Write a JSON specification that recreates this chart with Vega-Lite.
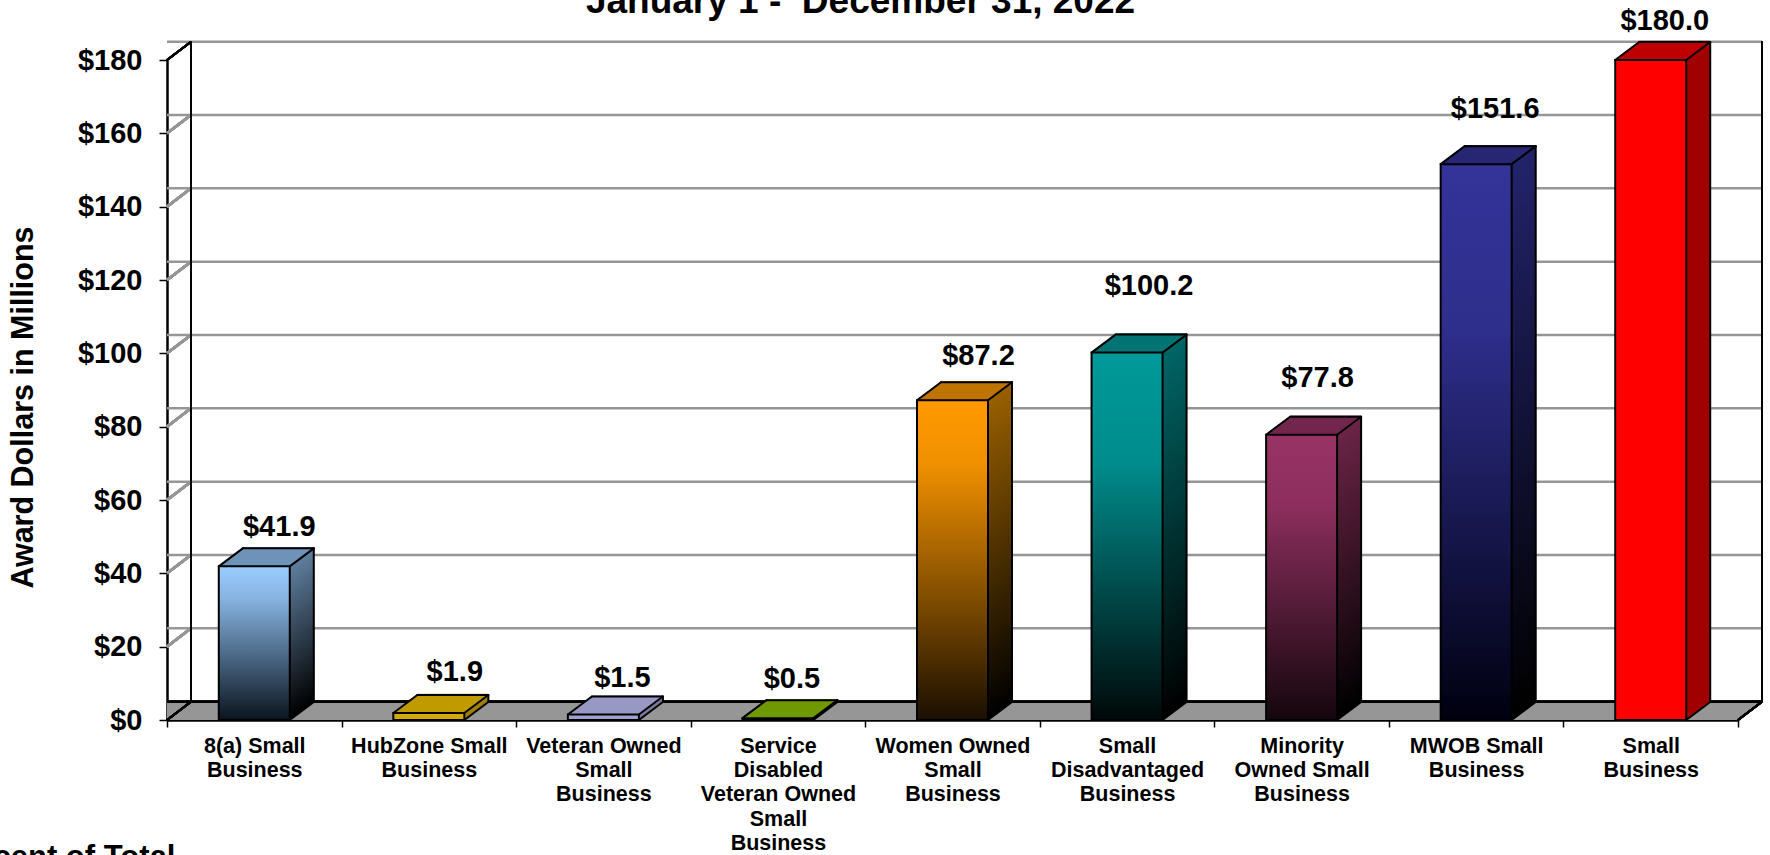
{
"$schema":"https://vega.github.io/schema/vega-lite/v6.json",
"width":1571,"height":660,"autosize":"none",
"padding":{"left":167,"top":60,"right":32,"bottom":135},
"background":"white",
"config":{"view":{"stroke":null},"font":"Liberation Sans"},
"title":{"text":"January 1 - \u00a0December 31, 2022","font":"Liberation Sans","fontWeight":"bold","fontSize":37,"color":"#000","anchor":"middle","dx":-92,"offset":0,"dy":43,"baseline":"alphabetic"},
"datasets":{
"bars":[
{"category":"8(a) Small Business","value":41.9},
{"category":"HubZone Small Business","value":1.9},
{"category":"Veteran Owned Small Business","value":1.5},
{"category":"Service Disabled Veteran Owned Small Business","value":0.5},
{"category":"Women Owned Small Business","value":87.2},
{"category":"Small Disadvantaged Business","value":100.2},
{"category":"Minority Owned Small Business","value":77.8},
{"category":"MWOB Small Business","value":151.6},
{"category":"Small Business","value":180.0}],
"ticks":[{"tick":0},{"tick":20},{"tick":40},{"tick":60},{"tick":80},{"tick":100},{"tick":120},{"tick":140},{"tick":160},{"tick":180}]
},
"layer":[
{"data":{"name":"ticks"},
 "encoding":{"y":{"datum":0,"type":"quantitative","scale":{"domain":[0,180],"nice":false},
   "axis":{"values":[0,20,40,60,80,100,120,140,160,180],"format":"$.0f","grid":false,"domainColor":"#000","domainWidth":2.5,"tickColor":"#000","tickSize":8,"tickWidth":1.5,"labelFont":"Liberation Sans","labelFontWeight":"bold","labelFontSize":29,"labelColor":"#000","labelPadding":17,"title":"Award Dollars in Millions","titleFont":"Liberation Sans","titleFontWeight":"bold","titleFontSize":30.5,"titleColor":"#000","titleX":-135,"titleY":347,"titleAngle":270,"titleBaseline":"alphabetic"}}},
 "layer":[
 {"mark":{"type":"rule","color":"#969696","strokeWidth":2.5,"xOffset":2,"x2Offset":2,"yOffset":-1.5}},
 {"mark":{"type":"rule","color":"#969696","strokeWidth":2.5,"xOffset":4,"x2Offset":4,"yOffset":-3}},
 {"mark":{"type":"rule","color":"#969696","strokeWidth":2.5,"xOffset":6,"x2Offset":6,"yOffset":-4.5}},
 {"mark":{"type":"rule","color":"#969696","strokeWidth":2.5,"xOffset":8,"x2Offset":8,"yOffset":-6}},
 {"mark":{"type":"rule","color":"#969696","strokeWidth":2.5,"xOffset":10,"x2Offset":10,"yOffset":-7.5}},
 {"mark":{"type":"rule","color":"#969696","strokeWidth":2.5,"xOffset":12,"x2Offset":12,"yOffset":-9}},
 {"mark":{"type":"rule","color":"#969696","strokeWidth":2.5,"xOffset":14,"x2Offset":14,"yOffset":-10.5}},
 {"mark":{"type":"rule","color":"#969696","strokeWidth":2.5,"xOffset":16,"x2Offset":16,"yOffset":-12}},
 {"mark":{"type":"rule","color":"#969696","strokeWidth":2.5,"xOffset":18,"x2Offset":18,"yOffset":-13.5}},
 {"mark":{"type":"rule","color":"#969696","strokeWidth":2.5,"xOffset":20,"x2Offset":20,"yOffset":-15}},
 {"mark":{"type":"rule","color":"#969696","strokeWidth":2.5,"xOffset":22,"x2Offset":22,"yOffset":-16.5}}
 ]},
{"data":{"name":"ticks"},
 "mark":{"type":"rule","color":"#969696","strokeWidth":2.5,"xOffset":24,"x2Offset":24,"yOffset":-18.3},
 "encoding":{"y":{"field":"tick","type":"quantitative"}}},
{"data":{"name":"ticks"},
 "encoding":{"x":{"datum":"8(a) Small Business","type":"nominal","bandPosition":0},"x2":{"datum":"8(a) Small Business","bandPosition":0}},
 "layer":[
 {"mark":{"type":"rule","color":"#969696","strokeWidth":2.5,"x2Offset":24,"y2Offset":-18.3},"encoding":{"y":{"datum":20,"type":"quantitative"},"y2":{"datum":20}}},
 {"mark":{"type":"rule","color":"#969696","strokeWidth":2.5,"x2Offset":24,"y2Offset":-18.3},"encoding":{"y":{"datum":40,"type":"quantitative"},"y2":{"datum":40}}},
 {"mark":{"type":"rule","color":"#969696","strokeWidth":2.5,"x2Offset":24,"y2Offset":-18.3},"encoding":{"y":{"datum":60,"type":"quantitative"},"y2":{"datum":60}}},
 {"mark":{"type":"rule","color":"#969696","strokeWidth":2.5,"x2Offset":24,"y2Offset":-18.3},"encoding":{"y":{"datum":80,"type":"quantitative"},"y2":{"datum":80}}},
 {"mark":{"type":"rule","color":"#969696","strokeWidth":2.5,"x2Offset":24,"y2Offset":-18.3},"encoding":{"y":{"datum":100,"type":"quantitative"},"y2":{"datum":100}}},
 {"mark":{"type":"rule","color":"#969696","strokeWidth":2.5,"x2Offset":24,"y2Offset":-18.3},"encoding":{"y":{"datum":120,"type":"quantitative"},"y2":{"datum":120}}},
 {"mark":{"type":"rule","color":"#969696","strokeWidth":2.5,"x2Offset":24,"y2Offset":-18.3},"encoding":{"y":{"datum":140,"type":"quantitative"},"y2":{"datum":140}}},
 {"mark":{"type":"rule","color":"#969696","strokeWidth":2.5,"x2Offset":24,"y2Offset":-18.3},"encoding":{"y":{"datum":160,"type":"quantitative"},"y2":{"datum":160}}},
 {"mark":{"type":"rule","color":"#000","strokeWidth":2,"x2Offset":24,"y2Offset":-18.3},"encoding":{"y":{"datum":180,"type":"quantitative"},"y2":{"datum":180}}},
 {"mark":{"type":"rule","color":"#000","strokeWidth":2,"x2Offset":24,"y2Offset":-18.3},"encoding":{"y":{"datum":0,"type":"quantitative"},"y2":{"datum":0}}},
 {"mark":{"type":"rule","color":"#000","strokeWidth":2,"xOffset":24,"x2Offset":24,"yOffset":-18.3,"y2Offset":-18.3},"encoding":{"y":{"datum":0,"type":"quantitative"},"y2":{"datum":180}}}
 ]},
{"data":{"name":"ticks"},
 "encoding":{"x":{"datum":"Small Business","type":"nominal","bandPosition":1},"x2":{"datum":"Small Business","bandPosition":1}},
 "layer":[
 {"mark":{"type":"rule","color":"#000","strokeWidth":2,"xOffset":24,"x2Offset":24,"yOffset":-18.3,"y2Offset":-18.3},"encoding":{"y":{"datum":0,"type":"quantitative"},"y2":{"datum":180}}},
 {"mark":{"type":"rule","color":"#000","strokeWidth":2,"x2Offset":24,"y2Offset":-18.3},"encoding":{"y":{"datum":0,"type":"quantitative"},"y2":{"datum":0}}}
 ]},
{"data":{"name":"ticks"},
 "mark":{"type":"rule","color":"#000","strokeWidth":2,"xOffset":24,"x2Offset":24,"yOffset":-18.3},
 "encoding":{"y":{"datum":0,"type":"quantitative"}}},
{"data":{"name":"bars"},
 "encoding":{
  "x":{"field":"category","type":"nominal","sort":null,"scale":{"type":"band","paddingInner":0,"paddingOuter":0,"domain":["8(a) Small Business","HubZone Small Business","Veteran Owned Small Business","Service Disabled Veteran Owned Small Business","Women Owned Small Business","Small Disadvantaged Business","Minority Owned Small Business","MWOB Small Business","Small Business"]},
   "axis":{"labelAngle":0,"labelAlign":"center","title":"Percent of Total","titleFont":"Liberation Sans","titleFontWeight":"bold","titleFontSize":31,"titleColor":"#000","titleAnchor":"end","titleAlign":"right","titleX":8,"titleY":122,"domainColor":"#000","domainWidth":2.5,"tickColor":"#000","tickSize":7,"tickWidth":1.5,"tickBand":"extent","labelFont":"Liberation Sans","labelFontWeight":"bold","labelFontSize":21.5,"labelColor":"#000","labelPadding":8,"labelLineHeight":24.4,"labelBaseline":"top","labelLimit":400,
    "labelExpr":"{'8(a) Small Business':['8(a) Small','Business'],'HubZone Small Business':['HubZone Small','Business'],'Veteran Owned Small Business':['Veteran Owned','Small','Business'],'Service Disabled Veteran Owned Small Business':['Service','Disabled','Veteran Owned','Small','Business'],'Women Owned Small Business':['Women Owned','Small','Business'],'Small Disadvantaged Business':['Small','Disadvantaged','Business'],'Minority Owned Small Business':['Minority','Owned Small','Business'],'MWOB Small Business':['MWOB Small','Business'],'Small Business':['Small','Business']}[datum.label]"}},
  "y":{"field":"value","type":"quantitative"}},
 "layer":[
 {"encoding":{"fill":{"condition":[
   {"test":"datum.category==='8(a) Small Business'","value":{"gradient":"linear","x1":0,"y1":0,"x2":0,"y2":1,"stops":[{"offset":0,"color":"#5F7F9F"},{"offset":1,"color":"#000000"}]}},
   {"test":"datum.category==='HubZone Small Business'","value":"#A08000"},
   {"test":"datum.category==='Veteran Owned Small Business'","value":"#7878A8"},
   {"test":"datum.category==='Service Disabled Veteran Owned Small Business'","value":"#4F7700"},
   {"test":"datum.category==='Women Owned Small Business'","value":{"gradient":"linear","x1":0,"y1":0,"x2":0,"y2":1,"stops":[{"offset":0,"color":"#996000"},{"offset":1,"color":"#000000"}]}},
   {"test":"datum.category==='Small Disadvantaged Business'","value":{"gradient":"linear","x1":0,"y1":0,"x2":0,"y2":1,"stops":[{"offset":0,"color":"#006666"},{"offset":1,"color":"#000000"}]}},
   {"test":"datum.category==='Minority Owned Small Business'","value":{"gradient":"linear","x1":0,"y1":0,"x2":0,"y2":1,"stops":[{"offset":0,"color":"#6B2447"},{"offset":1,"color":"#000000"}]}},
   {"test":"datum.category==='MWOB Small Business'","value":{"gradient":"linear","x1":0,"y1":0,"x2":0,"y2":1,"stops":[{"offset":0,"color":"#23236B"},{"offset":1,"color":"#000000"}]}}
  ],"value":"#A00000"}},
  "layer":[
  {"mark":{"type":"bar","width":3,"xOffset":37,"yOffset":-1.5,"y2Offset":-1.5}},
  {"mark":{"type":"bar","width":3,"xOffset":39,"yOffset":-3,"y2Offset":-3}},
  {"mark":{"type":"bar","width":3,"xOffset":41,"yOffset":-4.5,"y2Offset":-4.5}},
  {"mark":{"type":"bar","width":3,"xOffset":43,"yOffset":-6,"y2Offset":-6}},
  {"mark":{"type":"bar","width":3,"xOffset":45,"yOffset":-7.5,"y2Offset":-7.5}},
  {"mark":{"type":"bar","width":3,"xOffset":47,"yOffset":-9,"y2Offset":-9}},
  {"mark":{"type":"bar","width":3,"xOffset":49,"yOffset":-10.5,"y2Offset":-10.5}},
  {"mark":{"type":"bar","width":3,"xOffset":51,"yOffset":-12,"y2Offset":-12}},
  {"mark":{"type":"bar","width":3,"xOffset":53,"yOffset":-13.5,"y2Offset":-13.5}},
  {"mark":{"type":"bar","width":3,"xOffset":55,"yOffset":-15,"y2Offset":-15}},
  {"mark":{"type":"bar","width":3,"xOffset":57,"yOffset":-16.5,"y2Offset":-16.5}},
  {"mark":{"type":"bar","width":3,"xOffset":58.5,"yOffset":-18,"y2Offset":-18}}
  ]},
 {"encoding":{"x2":{"field":"category"},"y2":{"field":"value"},"stroke":{"field":"category","type":"nominal","legend":null,"scale":{"domain":["8(a) Small Business","HubZone Small Business","Veteran Owned Small Business","Service Disabled Veteran Owned Small Business","Women Owned Small Business","Small Disadvantaged Business","Minority Owned Small Business","MWOB Small Business","Small Business"],"range":["#6F93B8","#C09B00","#9999C4","#6F9900","#BF7300","#007373","#73264D","#262673","#BF0000"]}}},
  "layer":[
  {"mark":{"type":"rule","strokeWidth":2.5,"xOffset":-33.5,"x2Offset":37.5,"yOffset":-1.5,"y2Offset":-1.5}},
  {"mark":{"type":"rule","strokeWidth":2.5,"xOffset":-31.5,"x2Offset":39.5,"yOffset":-3,"y2Offset":-3}},
  {"mark":{"type":"rule","strokeWidth":2.5,"xOffset":-29.5,"x2Offset":41.5,"yOffset":-4.5,"y2Offset":-4.5}},
  {"mark":{"type":"rule","strokeWidth":2.5,"xOffset":-27.5,"x2Offset":43.5,"yOffset":-6,"y2Offset":-6}},
  {"mark":{"type":"rule","strokeWidth":2.5,"xOffset":-25.5,"x2Offset":45.5,"yOffset":-7.5,"y2Offset":-7.5}},
  {"mark":{"type":"rule","strokeWidth":2.5,"xOffset":-23.5,"x2Offset":47.5,"yOffset":-9,"y2Offset":-9}},
  {"mark":{"type":"rule","strokeWidth":2.5,"xOffset":-21.5,"x2Offset":49.5,"yOffset":-10.5,"y2Offset":-10.5}},
  {"mark":{"type":"rule","strokeWidth":2.5,"xOffset":-19.5,"x2Offset":51.5,"yOffset":-12,"y2Offset":-12}},
  {"mark":{"type":"rule","strokeWidth":2.5,"xOffset":-17.5,"x2Offset":53.5,"yOffset":-13.5,"y2Offset":-13.5}},
  {"mark":{"type":"rule","strokeWidth":2.5,"xOffset":-15.5,"x2Offset":55.5,"yOffset":-15,"y2Offset":-15}},
  {"mark":{"type":"rule","strokeWidth":2.5,"xOffset":-13.5,"x2Offset":57.5,"yOffset":-16.5,"y2Offset":-16.5}},
  {"mark":{"type":"rule","strokeWidth":2.5,"xOffset":-11.5,"x2Offset":59.5,"yOffset":-18,"y2Offset":-18}}
  ]},
 {"encoding":{"x2":{"field":"category"},"y2":{"field":"value"}},
  "layer":[
  {"mark":{"type":"rule","color":"#000","strokeWidth":2,"strokeCap":"round","xOffset":-35.5,"x2Offset":-11.5,"y2Offset":-18}},
  {"mark":{"type":"rule","color":"#000","strokeWidth":2,"strokeCap":"round","xOffset":35.5,"x2Offset":59.5,"y2Offset":-18}},
  {"mark":{"type":"rule","color":"#000","strokeWidth":2,"strokeCap":"round","xOffset":-11.5,"x2Offset":59.5,"yOffset":-18,"y2Offset":-18}}
  ]},
 {"mark":{"type":"rule","color":"#000","strokeWidth":2,"strokeCap":"round","xOffset":59.5,"yOffset":-18,"y2Offset":-18},"encoding":{"y2":{"datum":0}}},
 {"mark":{"type":"rule","color":"#000","strokeWidth":2,"strokeCap":"round","xOffset":35.5,"x2Offset":59.5,"y2Offset":-18},"encoding":{"x2":{"field":"category"},"y":{"datum":0},"y2":{"datum":0}}},
 {"encoding":{"fill":{"condition":[
   {"test":"datum.category==='8(a) Small Business'","value":{"gradient":"linear","x1":0,"y1":0,"x2":0,"y2":1,"stops":[{"offset":0,"color":"#99CCFF"},{"offset":0.2,"color":"#88B5E3"},{"offset":1,"color":"#0A141E"}]}},
   {"test":"datum.category==='HubZone Small Business'","value":"#D4AA00"},
   {"test":"datum.category==='Veteran Owned Small Business'","value":"#A0A0D0"},
   {"test":"datum.category==='Service Disabled Veteran Owned Small Business'","value":"#669900"},
   {"test":"datum.category==='Women Owned Small Business'","value":{"gradient":"linear","x1":0,"y1":0,"x2":0,"y2":1,"stops":[{"offset":0,"color":"#FF9900"},{"offset":0.2,"color":"#F09000"},{"offset":1,"color":"#1A0F00"}]}},
   {"test":"datum.category==='Small Disadvantaged Business'","value":{"gradient":"linear","x1":0,"y1":0,"x2":0,"y2":1,"stops":[{"offset":0,"color":"#009999"},{"offset":0.3,"color":"#008C8C"},{"offset":1,"color":"#000808"}]}},
   {"test":"datum.category==='Minority Owned Small Business'","value":{"gradient":"linear","x1":0,"y1":0,"x2":0,"y2":1,"stops":[{"offset":0,"color":"#993366"},{"offset":0.25,"color":"#8C2E5D"},{"offset":1,"color":"#14060D"}]}},
   {"test":"datum.category==='MWOB Small Business'","value":{"gradient":"linear","x1":0,"y1":0,"x2":0,"y2":1,"stops":[{"offset":0,"color":"#333399"},{"offset":0.3,"color":"#2E2E8C"},{"offset":1,"color":"#000010"}]}}
  ],"value":"#FF0000"}},
  "mark":{"type":"bar","width":71,"stroke":"#000","strokeWidth":2}},
 {"mark":{"type":"text","font":"Liberation Sans","fontWeight":"bold","fontSize":29,"color":"#000","align":"center","baseline":"middle",
   "dx":{"expr":"{'8(a) Small Business':25,'HubZone Small Business':26,'Veteran Owned Small Business':19,'Service Disabled Veteran Owned Small Business':14,'Women Owned Small Business':26,'Small Disadvantaged Business':22,'Minority Owned Small Business':16,'MWOB Small Business':19,'Small Business':14}[datum.category]"},
   "dy":{"expr":"{'8(a) Small Business':-39,'HubZone Small Business':-41,'Veteran Owned Small Business':-37,'Service Disabled Veteran Owned Small Business':-39,'Women Owned Small Business':-44,'Small Disadvantaged Business':-67,'Minority Owned Small Business':-57,'MWOB Small Business':-55,'Small Business':-39}[datum.category]"}},
  "encoding":{"text":{"field":"value","type":"quantitative","format":"$.1f"}}}
 ]}
]
}
